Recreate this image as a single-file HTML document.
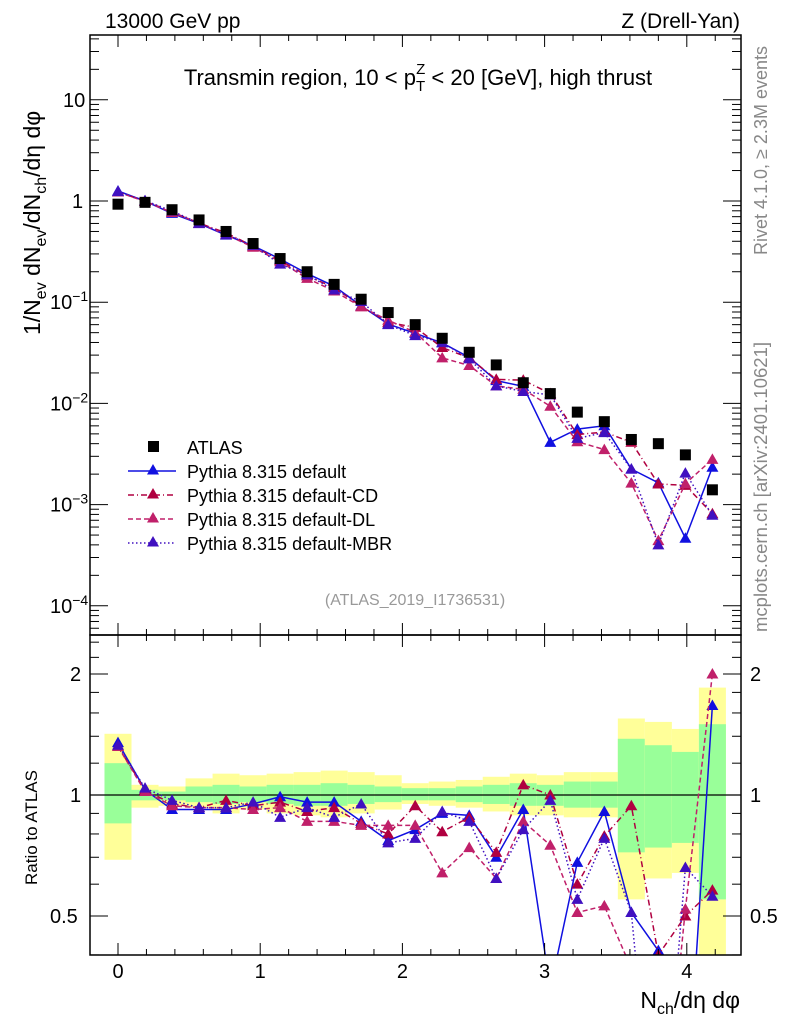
<!DOCTYPE html>
<html><head><meta charset="utf-8"><style>
body{margin:0;background:#fff;overflow:hidden;}
svg{display:block;}
svg text{font-family:"Liberation Sans",sans-serif;}
</style></head><body>
<svg id="c" width="786" height="1024" xmlns="http://www.w3.org/2000/svg">
<rect width="786" height="1024" fill="#fff"/>
<g id="bands"></g>
<g id="marks"></g>
<g id="axes"></g>
<text x="105" y="28" font-size="21">13000 GeV pp</text>
<text x="740" y="28" font-size="21" text-anchor="end">Z (Drell-Yan)</text>
<text x="418" y="85" font-size="22" text-anchor="middle">Transmin region, 10 &lt; p<tspan font-size="15" dy="6">T</tspan><tspan font-size="15" dx="-9" dy="-17">Z</tspan><tspan dy="11"> &lt; 20 [GeV], high thrust</tspan></text>
<text transform="translate(40,335) rotate(-90)" font-size="23">1/N<tspan font-size="16" dy="6">ev</tspan><tspan dy="-6"> dN</tspan><tspan font-size="16" dy="6">ev</tspan><tspan dy="-6">/dN</tspan><tspan font-size="16" dy="6">ch</tspan><tspan dy="-6">/dη dφ</tspan></text>
<text transform="translate(37,885) rotate(-90)" font-size="17">Ratio to ATLAS</text>
<text x="740" y="1008" font-size="23" text-anchor="end">N<tspan font-size="16" dy="6">ch</tspan><tspan dy="-6">/dη dφ</tspan></text>
<text transform="translate(767,255) rotate(-90)" font-size="18" fill="#888">Rivet 4.1.0, ≥ 2.3M events</text>
<text transform="translate(767,632) rotate(-90)" font-size="18.5" fill="#888">mcplots.cern.ch [arXiv:2401.10621]</text>
<text x="415" y="605" font-size="16" fill="#999" text-anchor="middle">(ATLAS_2019_I1736531)</text>
<g id="legend"></g>
</svg>
<script>
const xs=[0,0.19,0.38,0.57,0.76,0.95,1.14,1.33,1.52,1.71,1.90,2.09,2.28,2.47,2.66,2.85,3.04,3.23,3.42,3.61,3.80,3.99,4.18];
const atlas=[0.93,0.97,0.82,0.65,0.50,0.38,0.27,0.20,0.15,0.107,0.079,0.060,0.044,0.032,0.024,0.016,0.0125,0.0082,0.0066,0.0044,0.0040,0.0031,0.0014];
const rDefault=[1.35,1.03,0.92,0.92,0.92,0.95,0.99,0.96,0.96,0.86,0.77,0.82,0.90,0.89,0.70,0.92,0.33,0.68,0.91,0.51,0.41,0.15,1.67];
const rCD=[1.32,1.03,0.95,0.93,0.97,0.94,0.96,0.91,0.93,0.85,0.80,0.94,0.81,0.88,0.72,1.06,1.0,0.60,0.79,0.94,0.40,0.50,0.58];
const rDL=[1.32,1.02,0.94,0.93,0.93,0.92,0.93,0.86,0.86,0.84,0.84,0.84,0.64,0.74,0.62,0.86,0.75,0.51,0.53,0.37,0.11,0.52,2.0];
const rMBR=[1.33,1.04,0.97,0.93,0.93,0.96,0.88,0.93,0.88,0.95,0.76,0.78,0.91,0.86,0.62,0.82,0.97,0.55,0.78,0.51,0.10,0.66,0.56];
const yelLo=[0.69,0.93,0.94,0.93,0.90,0.92,0.90,0.89,0.88,0.90,0.92,0.95,0.94,0.93,0.91,0.89,0.89,0.88,0.88,0.55,0.62,0.64,0.30];
const yelHi=[1.42,1.06,1.05,1.10,1.13,1.12,1.13,1.14,1.15,1.14,1.12,1.07,1.08,1.09,1.11,1.13,1.12,1.14,1.14,1.55,1.52,1.46,1.85];
const grnLo=[0.85,0.97,0.97,0.96,0.95,0.96,0.95,0.94,0.94,0.95,0.96,0.97,0.97,0.96,0.95,0.94,0.94,0.93,0.93,0.72,0.74,0.76,0.55];
const grnHi=[1.20,1.03,1.02,1.05,1.06,1.05,1.06,1.06,1.07,1.06,1.05,1.04,1.04,1.05,1.06,1.07,1.06,1.08,1.08,1.38,1.33,1.28,1.50];
const ns="http://www.w3.org/2000/svg";
const L=90,R=741,T=35,MB=635,RB=955;
const X=v=>118+v*142.2;
const Y=v=>201-Math.log10(v)*101.2;
const RY=v=>795-Math.log2(v)*121;
function mk(p,tag,a){const e=document.createElementNS(ns,tag);for(const k in a)e.setAttribute(k,a[k]);p.appendChild(e);return e;}
const bands=document.getElementById('bands'),marks=document.getElementById('marks'),axes=document.getElementById('axes'),leg=document.getElementById('legend');
const cl=v=>Math.min(Math.max(v,MB),RB);
xs.forEach((x,i)=>{
 const x0=Math.max(X(x-0.095),L+1),x1=Math.min(X(x+0.095),R-1);
 const y=mk(bands,'rect',{x:x0,y:cl(RY(yelHi[i])),width:x1-x0,height:cl(RY(yelLo[i]))-cl(RY(yelHi[i])),fill:'#ffff99'});
 
 
 const g=mk(bands,'rect',{x:x0,y:cl(RY(grnHi[i])),width:x1-x0,height:cl(RY(grnLo[i]))-cl(RY(grnHi[i])),fill:'#99ff99'});
 
 
});
mk(marks,'line',{x1:L,x2:R,y1:RY(1),y2:RY(1),stroke:'#000','stroke-width':1.3});
const series=[
 {n:'default',r:rDefault,c:'#1010e0',d:'',lab:'Pythia 8.315 default'},
 {n:'cd',r:rCD,c:'#b00040',d:'6,3,1,3',lab:'Pythia 8.315 default-CD'},
 {n:'dl',r:rDL,c:'#c0206a',d:'5,3',lab:'Pythia 8.315 default-DL'},
 {n:'mbr',r:rMBR,c:'#4010c0',d:'1.5,2.5',lab:'Pythia 8.315 default-MBR'}];
function tri(p,x,y,c){return mk(p,'path',{d:`M${x},${y-6}L${x+6},${y+4.5}L${x-6},${y+4.5}Z`,fill:c});}
const clipM=mk(marks,'clipPath',{id:'cm'});mk(clipM,'rect',{x:L,y:T,width:R-L,height:MB-T});
const clipR=mk(marks,'clipPath',{id:'cr'});mk(clipR,'rect',{x:L,y:MB,width:R-L,height:RB-MB});
const gm=mk(marks,'g',{'clip-path':'url(#cm)'}),gr=mk(marks,'g',{'clip-path':'url(#cr)'});
series.forEach(s=>{
 const pm=xs.map((x,i)=>X(x)+','+Y(s.r[i]*atlas[i])).join(' ');
 const l1=mk(gm,'polyline',{points:pm,fill:'none',stroke:s.c,'stroke-width':1.5,'stroke-dasharray':s.d});
 
 
 const pr=xs.map((x,i)=>X(x)+','+RY(s.r[i])).join(' ');
 const l2=mk(gr,'polyline',{points:pr,fill:'none',stroke:s.c,'stroke-width':1.5,'stroke-dasharray':s.d});
 
 
 xs.forEach((x,i)=>{
  const a=tri(gm,X(x),Y(s.r[i]*atlas[i]),s.c);
  
  
  const b=tri(gr,X(x),RY(s.r[i]),s.c);
  
  
 });
});
xs.forEach((x,i)=>{
 const r=mk(gm,'rect',{x:X(x)-5.5,y:Y(atlas[i])-5.5,width:11,height:11,fill:'#000'});
 
 
});
[[T,MB],[MB,RB]].forEach(([a,b])=>mk(axes,'rect',{x:L,y:a,width:R-L,height:b-a,fill:'none',stroke:'#000','stroke-width':1.5}));
for(let k=-0.8;k<=4.4;k+=0.2){const v=Math.round(k*10)/10;const x=X(v);if(x<L||x>R)continue;const maj=Math.abs(v-Math.round(v))<1e-6;const h=maj?12:6;
 [[T,1],[MB,-1],[MB,1],[RB,-1]].forEach(([y,d])=>mk(axes,'line',{x1:x,x2:x,y1:y,y2:y+d*h,stroke:'#000','stroke-width':1}));
 if(maj){const t=mk(axes,'text',{x:x,y:978,'font-size':20,'text-anchor':'middle'});t.textContent=String(v);}}
const ylab={'-4':'10<tspan font-size="14" dy="-8">−4</tspan>','-3':'10<tspan font-size="14" dy="-8">−3</tspan>','-2':'10<tspan font-size="14" dy="-8">−2</tspan>','-1':'10<tspan font-size="14" dy="-8">−1</tspan>','0':'1','1':'10'};
for(let e=-5;e<=1;e++){for(let m=1;m<10;m++){const v=m*Math.pow(10,e);const y=Y(v);if(y<T||y>MB)continue;const h=m==1?18:9;
 mk(axes,'line',{x1:L,x2:L+h,y1:y,y2:y,stroke:'#000'});mk(axes,'line',{x1:R,x2:R-h,y1:y,y2:y,stroke:'#000'});
 if(m==1){const t=mk(axes,'text',{x:e<0?50:(e==0?72:63),y:y+7,'font-size':20});t.innerHTML=ylab[String(e)];}}}
[0.4,0.5,0.6,0.7,0.8,0.9,1,1.2,1.4,1.6,1.8,2,2.2,2.4].forEach(v=>{const y=RY(v);if(y<MB||y>RB)return;const maj=(v==0.5||v==1||v==2);const h=maj?18:9;
 mk(axes,'line',{x1:L,x2:L+h,y1:y,y2:y,stroke:'#000'});mk(axes,'line',{x1:R,x2:R-h,y1:y,y2:y,stroke:'#000'});
 if(maj){[v==0.5?50:70,750].forEach(x=>{const t=mk(axes,'text',{x:x,y:y+7,'font-size':20});t.textContent=String(v);});}});
mk(leg,'rect',{x:148,y:441,width:11,height:11,fill:'#000'});
const lt=mk(leg,'text',{x:187,y:454,'font-size':18});lt.textContent='ATLAS';


series.forEach((s,i)=>{const y=471+i*24;
 mk(leg,'line',{x1:128,x2:176,y1:y,y2:y,stroke:s.c,'stroke-width':1.5,'stroke-dasharray':s.d});
 tri(leg,153,y-1,s.c);
 const t=mk(leg,'text',{x:187,y:y+7,'font-size':18});t.textContent=s.lab;
 
 
});
</script>
</body></html>
